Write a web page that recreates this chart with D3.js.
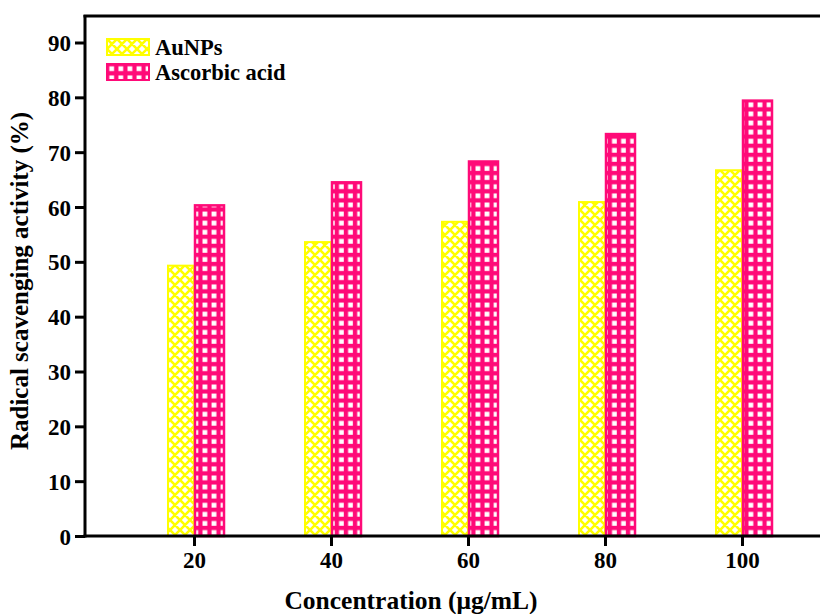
<!DOCTYPE html>
<html>
<head>
<meta charset="utf-8">
<script src="https://cdn.jsdelivr.net/npm/d3@7"></script>
<style>
  body { margin: 0; background: #fff; }
  svg { display: block; }
  text { font-family: "Liberation Serif", "Times New Roman", serif; font-weight: bold; fill: #000; }
</style>
</head>
<body>
<div id="chart"></div>
<script>
// data
const concentrations = ["20", "40", "60", "80", "100"];
const auNPs = [49.3, 53.6, 57.3, 60.9, 66.7];
const ascorbic = [60.3, 64.5, 68.3, 73.3, 79.4];
const yTicks = [0, 10, 20, 30, 40, 50, 60, 70, 80, 90];

const W = 820, H = 614;
const axisLeft = 85, axisBottom = 536, axisTop = 16;

const svg = d3.select("#chart").append("svg")
    .attr("width", W)
    .attr("height", H);

const defs = svg.append("defs");

// yellow cross-hatch
const pY = defs.append("pattern")
    .attr("id", "hatchY")
    .attr("patternUnits", "userSpaceOnUse")
    .attr("width", 10).attr("height", 10);
pY.append("rect").attr("width", 10).attr("height", 10).attr("fill", "#fff");
pY.append("path")
    .attr("d", "M0,0L10,10M10,0L0,10M-1,9L1,11M9,-1L11,1M-1,1L1,-1M9,11L11,9")
    .attr("stroke", "#ffff00")
    .attr("stroke-width", 2.6);

// pink grid
const pP = defs.append("pattern")
    .attr("id", "gridP")
    .attr("patternUnits", "userSpaceOnUse")
    .attr("width", 9.1).attr("height", 9.1);
pP.append("rect").attr("width", 9.1).attr("height", 9.1).attr("fill", "#ff0a78");
pP.append("rect").attr("x", 2.3).attr("y", 2.3).attr("width", 4.8).attr("height", 4.8).attr("fill", "#fff");

const y = d3.scaleLinear().domain([0, 90]).range([axisBottom, 42.5]);
const x = d3.scalePoint().domain(concentrations).range([194, 742]);

const yellowW = 26, pinkW = 29;

// bars
const g = svg.append("g");
g.selectAll(".barY")
    .data(auNPs)
    .enter().append("rect")
    .attr("class", "barY")
    .attr("x", (d, i) => x(concentrations[i]) - yellowW)
    .attr("y", d => y(d))
    .attr("width", yellowW)
    .attr("height", d => y(0) - y(d))
    .attr("fill", "url(#hatchY)")
    .attr("stroke", "#ffff00")
    .attr("stroke-width", 2);

g.selectAll(".barP")
    .data(ascorbic)
    .enter().append("rect")
    .attr("class", "barP")
    .attr("x", (d, i) => x(concentrations[i]) + 1)
    .attr("y", d => y(d))
    .attr("width", pinkW)
    .attr("height", d => y(0) - y(d))
    .attr("fill", "url(#gridP)")
    .attr("stroke", "#ff0a78")
    .attr("stroke-width", 2.5);

// axes
const yAxis = d3.axisLeft(y).tickValues(yTicks).tickSize(10).tickPadding(4);
const yG = svg.append("g")
    .attr("transform", `translate(${axisLeft},0)`)
    .call(yAxis);
yG.select(".domain").remove();
yG.selectAll(".tick line").attr("stroke", "#000").attr("stroke-width", 3);
yG.selectAll(".tick text").style("font-size", "23px").attr("dy", "0.35em");

const xAxis = d3.axisBottom(x).tickSize(10).tickPadding(6);
const xG = svg.append("g")
    .attr("transform", `translate(0,${axisBottom})`)
    .call(xAxis);
xG.select(".domain").remove();
xG.selectAll(".tick line").attr("stroke", "#000").attr("stroke-width", 3);
xG.selectAll(".tick text").style("font-size", "23px");

// frame lines
svg.append("line")
    .attr("x1", axisLeft).attr("x2", axisLeft)
    .attr("y1", axisTop - 1).attr("y2", axisBottom + 1.5)
    .attr("stroke", "#000").attr("stroke-width", 3);
svg.append("line")
    .attr("x1", axisLeft - 1.5).attr("x2", W)
    .attr("y1", axisBottom).attr("y2", axisBottom)
    .attr("stroke", "#000").attr("stroke-width", 3);
svg.append("line")
    .attr("x1", axisLeft - 1.5).attr("x2", W)
    .attr("y1", axisTop).attr("y2", axisTop)
    .attr("stroke", "#000").attr("stroke-width", 3);

// axis titles
svg.append("text")
    .attr("x", 411).attr("y", 609)
    .attr("text-anchor", "middle")
    .style("font-size", "25.5px")
    .text("Concentration (μg/mL)");

svg.append("text")
    .attr("transform", "translate(28,281) rotate(-90)")
    .attr("text-anchor", "middle")
    .style("font-size", "25px")
    .text("Radical scavenging activity (%)");

// legend
const legend = [
    {name: "AuNPs", fill: "url(#hatchY)", stroke: "#ffff00"},
    {name: "Ascorbic acid", fill: "url(#gridP)", stroke: "#ff0a78"}
];
const lg = svg.append("g").selectAll("g")
    .data(legend)
    .enter().append("g")
    .attr("transform", (d, i) => `translate(107,${39 + i * 25})`);
lg.append("rect")
    .attr("width", 42).attr("height", 16)
    .attr("fill", d => d.fill)
    .attr("stroke", d => d.stroke)
    .attr("stroke-width", 2);
lg.append("text")
    .attr("x", 48).attr("y", 8)
    .attr("dy", "0.35em")
    .style("font-size", "22.5px")
    .text(d => d.name);
</script>
</body>
</html>
